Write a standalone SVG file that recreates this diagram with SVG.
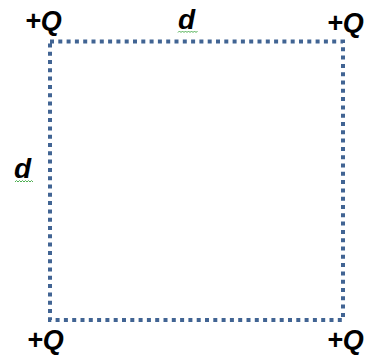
<svg xmlns="http://www.w3.org/2000/svg" width="374" height="356" viewBox="0 0 374 356">
<style>
.q{font-family:"Liberation Sans",Arial,sans-serif;font-weight:bold;font-style:italic;font-size:27px;fill:#000}
.d{font-family:"Liberation Sans",Arial,sans-serif;font-weight:bold;font-style:italic;font-size:28px;fill:#000}
.sq{fill:none;stroke:#416493;stroke-width:4;stroke-dasharray:4 4.3}
.wv{fill:none;stroke:#4caf50;stroke-width:1}
</style>
<rect width="374" height="356" fill="#fff"/>
<g id="connectors">
<rect id="square" class="sq" x="50" y="41.5" width="293" height="278.5"/>
</g>
<g id="q-tl"><text class="q" x="25" y="30">+Q</text></g>
<g id="q-tr"><text class="q" x="327" y="32">+Q</text></g>
<g id="q-bl"><text class="q" x="27" y="349">+Q</text></g>
<g id="q-br"><text class="q" x="327" y="349">+Q</text></g>
<g id="d-top"><text class="d" x="178" y="29">d</text>
<path class="wv" d="M178 32.5 l1.5 -1.5 l1.5 1.5 l1.5 -1.5 l1.5 1.5 l1.5 -1.5 l1.5 1.5 l1.5 -1.5 l1.5 1.5 l1.5 -1.5 l1.5 1.5 l1.5 -1.5 l1.5 1.5 l1.5 -1.5"/></g>
<g id="d-left"><text class="d" x="14" y="178">d</text>
<path class="wv" d="M15 182 l1.5 -1.5 l1.5 1.5 l1.5 -1.5 l1.5 1.5 l1.5 -1.5 l1.5 1.5 l1.5 -1.5 l1.5 1.5 l1.5 -1.5 l1.5 1.5 l1.5 -1.5 l1.5 1.5"/></g>
</svg>
